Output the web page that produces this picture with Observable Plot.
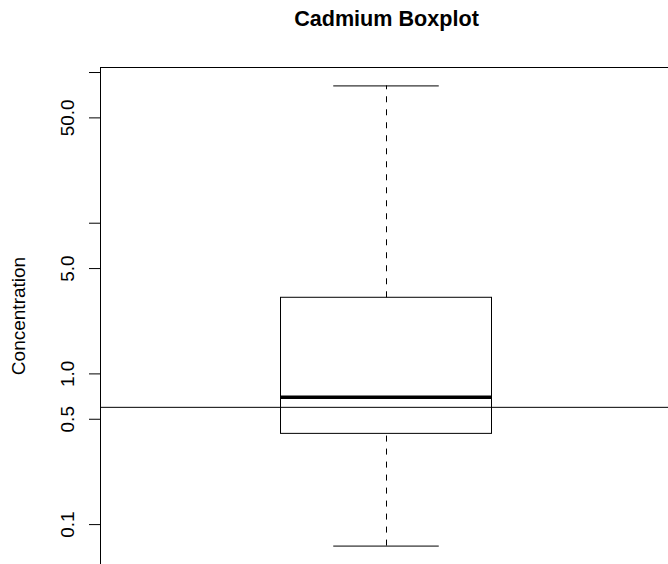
<!DOCTYPE html>
<html>
<head>
<meta charset="utf-8">
<script src="https://cdn.jsdelivr.net/npm/d3@7"></script>
<script src="https://cdn.jsdelivr.net/npm/@observablehq/plot@0.6"></script>
<style>
  html, body { margin: 0; padding: 0; background: #fff; }
  svg { display: block; }
</style>
</head>
<body>
<div id="chart"></div>
<script>
// Boxplot statistics
const whiskerLow = 0.072;
const q1 = 0.40;
const median = 0.70;
const q3 = 3.2;
const whiskerHigh = 81.5;
const refLine = 0.6;

// Axis ticks
const tickValues = [0.1, 0.5, 1, 5, 10, 50, 100];
const labeledTicks = [0.1, 0.5, 1, 5, 50];
const labelText = ["0.1", "0.5", "1.0", "5.0", "50.0"];

const title = "Cadmium Boxplot";
const yLabel = "Concentration";

// R-style log axis extension (4%)
const lo = Math.log10(whiskerLow), hi = Math.log10(whiskerHigh);
const ext = (hi - lo) * 0.04;
const yDomain = [Math.pow(10, lo - ext), Math.pow(10, hi + ext)];
const xDomain = [-0.0844, 2.0692];

const font = "Liberation Sans, Arial, Helvetica, sans-serif";

const chart = Plot.plot({
  width: 668,
  height: 564,
  marginTop: 67,
  marginLeft: 100,
  marginRight: 0,
  marginBottom: 0,
  style: { fontFamily: font, fontSize: "19px", background: "#fff", color: "#000" },
  x: { domain: xDomain, axis: null },
  y: { type: "log", domain: yDomain, axis: null },
  marks: [
    // frame (top + left visible)
    Plot.ruleY([yDomain[1]], { stroke: "#000", strokeWidth: 1 }),
    Plot.ruleX([xDomain[0]], { stroke: "#000", strokeWidth: 1 }),
    // y ticks
    Plot.axisY(tickValues, { tickSize: 11, tickFormat: () => "", label: null, stroke: "#000" }),
    Plot.text(labeledTicks, {
      y: d => d, text: (d, i) => labelText[i], frameAnchor: "left", dx: -27,
      rotate: -90, lineAnchor: "bottom", textAnchor: "middle", fontSize: 19, fill: "#000"
    }),
    // y label
    Plot.text([yLabel], {
      text: d => d, frameAnchor: "left", dx: -76, rotate: -90,
      lineAnchor: "bottom", textAnchor: "middle", fontSize: 19, fill: "#000"
    }),
    // title
    Plot.text([title], {
      x: 1, text: d => d, frameAnchor: "top", dy: -42, lineAnchor: "bottom",
      textAnchor: "middle", fontSize: 21.6, fontWeight: "bold", fill: "#000"
    }),
    // whiskers (dashed)
    Plot.ruleX([1], { y1: q3, y2: whiskerHigh, stroke: "#000", strokeDasharray: "6,7" }),
    Plot.ruleX([1], { y1: whiskerLow, y2: q1, stroke: "#000", strokeDasharray: "6,7" }),
    // whisker caps
    Plot.ruleY([whiskerHigh, whiskerLow], { x1: 0.8, x2: 1.2, stroke: "#000", strokeWidth: 1 }),
    // box
    Plot.rect([{ q1, q3 }], { x1: 0.6, x2: 1.4, y1: "q1", y2: "q3", fill: "none", stroke: "#000", strokeWidth: 1 }),
    // median
    Plot.ruleY([median], { x1: 0.6, x2: 1.4, stroke: "#000", strokeWidth: 3.4 }),
    // reference line
    Plot.ruleY([refLine], { stroke: "#000", strokeWidth: 1 })
  ]
});
document.getElementById("chart").appendChild(chart);
</script>
</body>
</html>
